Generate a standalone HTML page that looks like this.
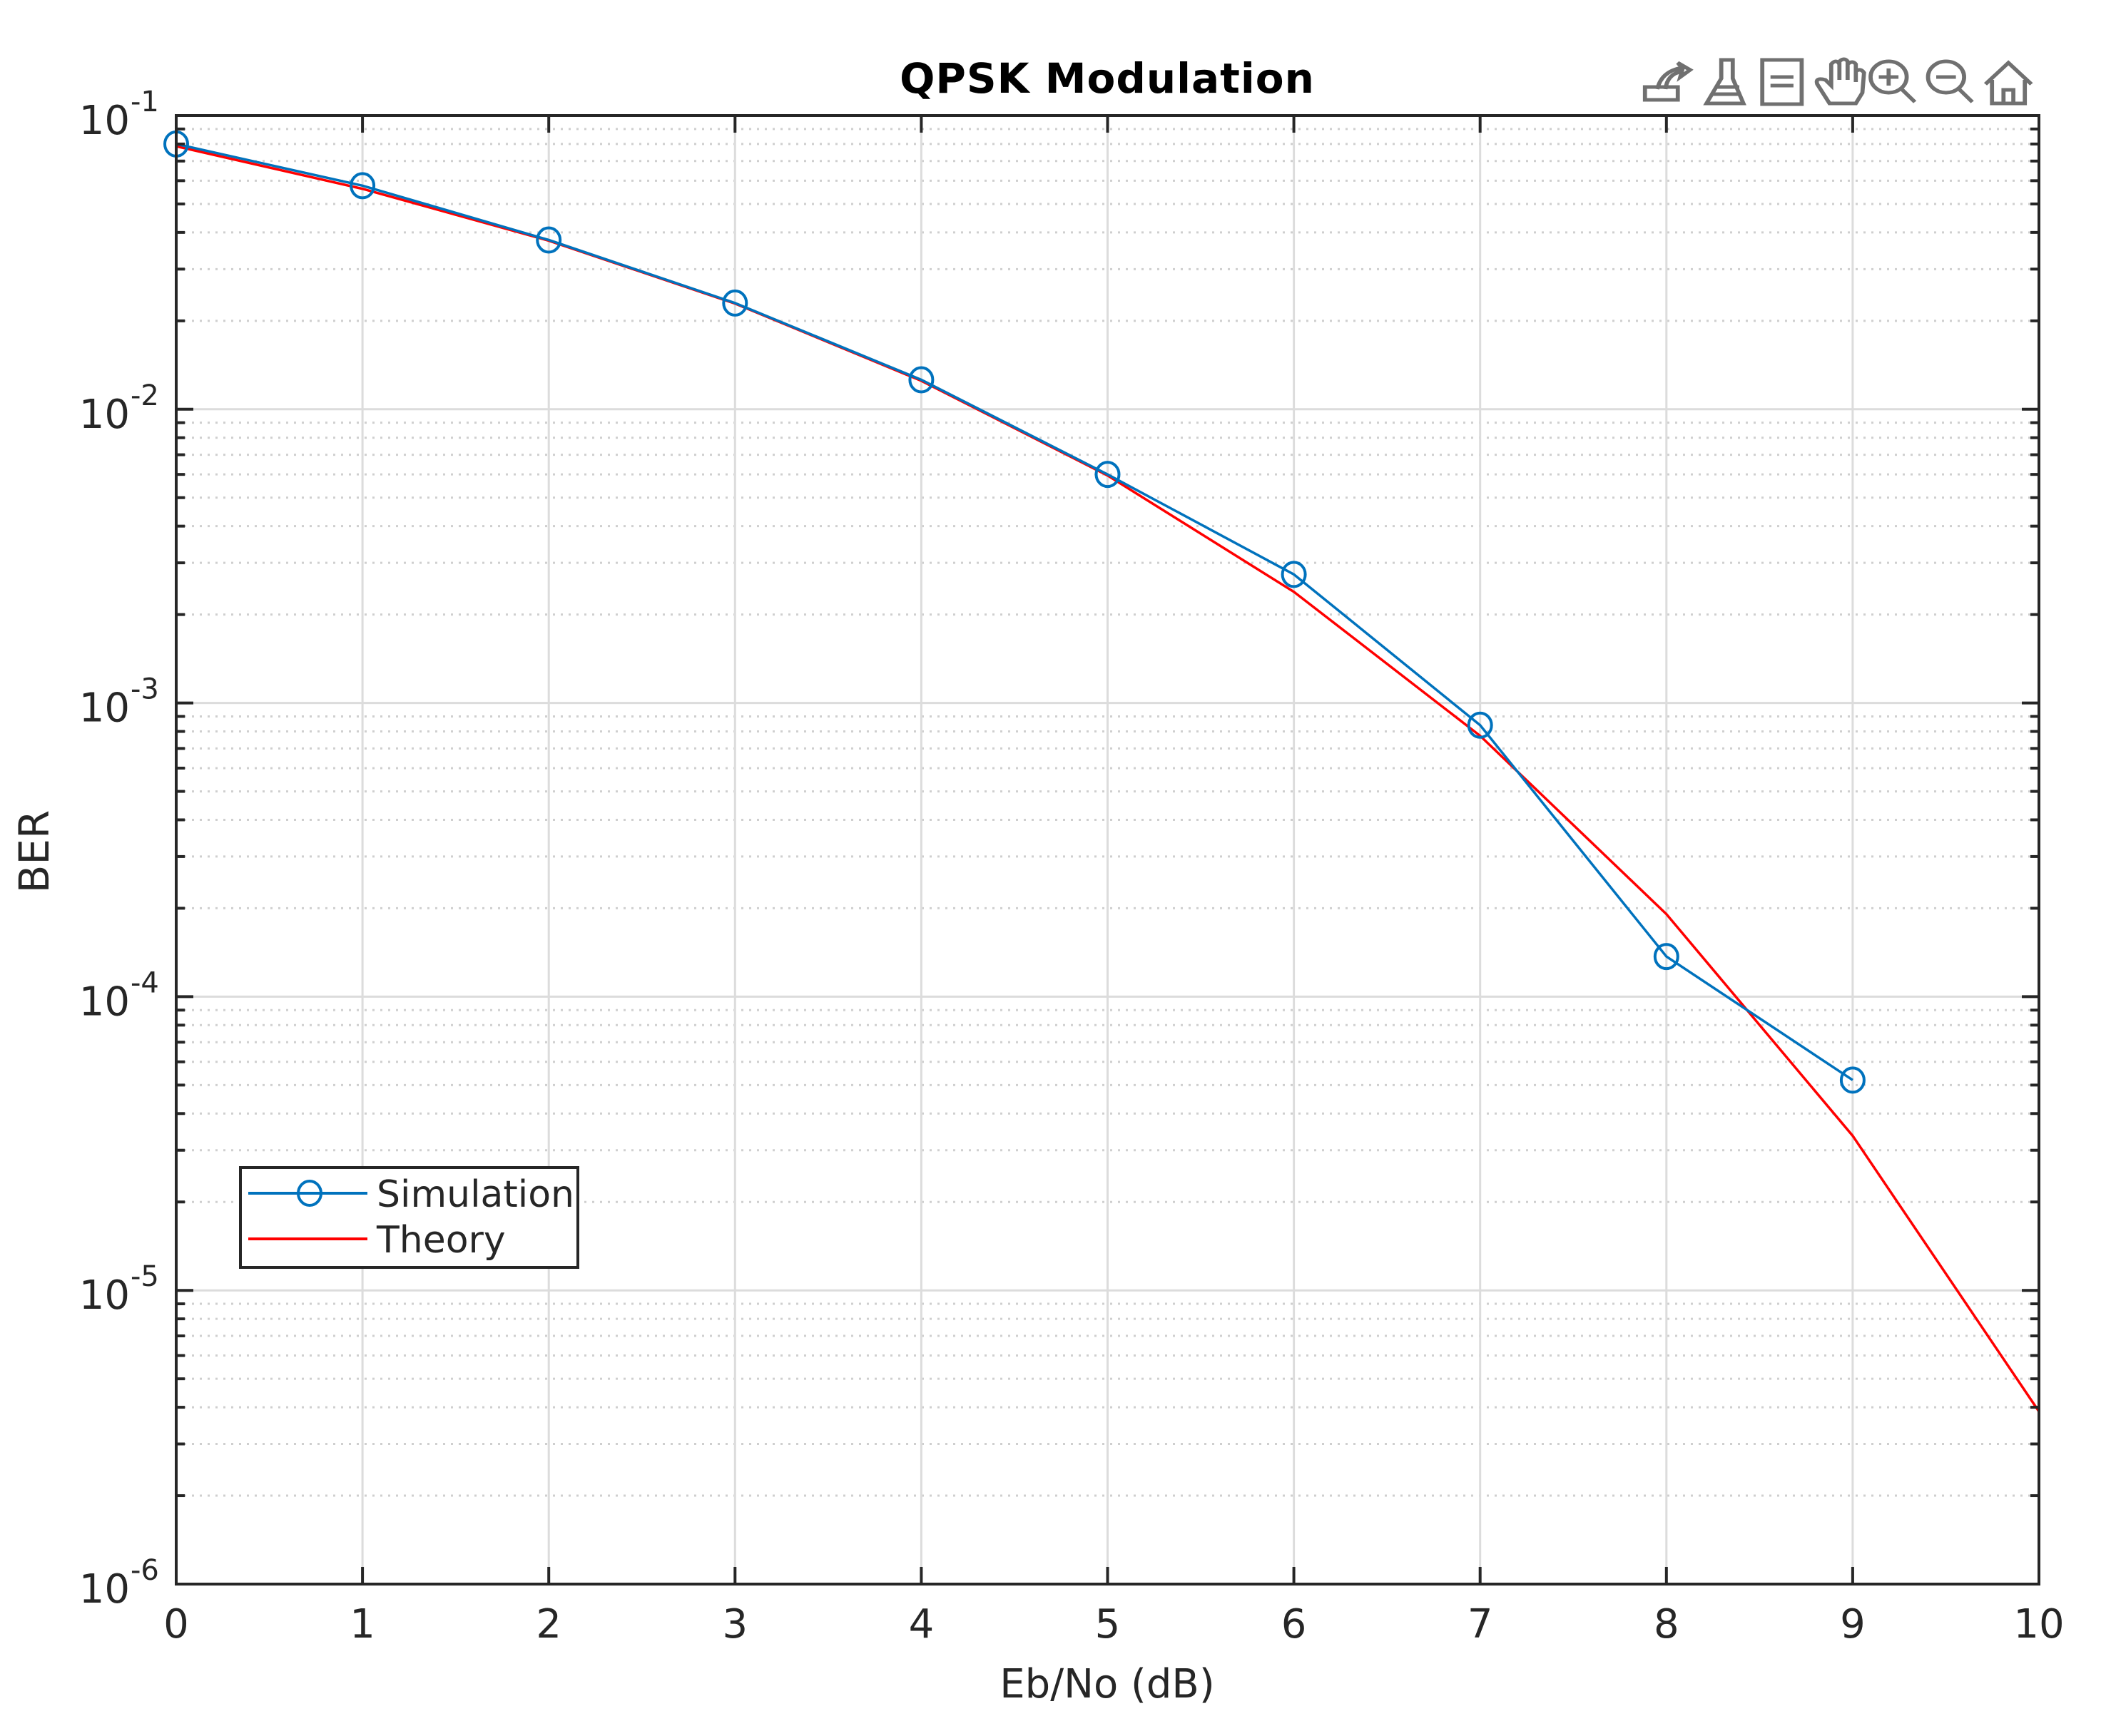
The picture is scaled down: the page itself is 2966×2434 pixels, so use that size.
<!DOCTYPE html>
<html><head><meta charset="utf-8"><style>
html,body{margin:0;padding:0;background:#fff;}
svg{display:block;font-family:"DejaVu Sans","Liberation Sans",sans-serif;}
</style></head><body>
<svg id="chart" width="2966" height="2434" viewBox="0 0 2966 2434" xmlns="http://www.w3.org/2000/svg">
<rect width="2966" height="2434" fill="#fff"/>
<g id="grid"></g>
<g id="series"></g>
<rect x="247" y="162" width="2611" height="2059" fill="none" stroke="#262626" stroke-width="4"/>
<g id="ticks"></g>
<text x="1552" y="130" text-anchor="middle" font-size="58" font-weight="bold" letter-spacing="1" fill="#000">QPSK Modulation</text>
<text x="1552" y="2380" text-anchor="middle" font-size="56" fill="#262626">Eb/No (dB)</text>
<text transform="translate(68,1194) rotate(-90)" text-anchor="middle" font-size="58" fill="#262626">BER</text>
<g>
<rect x="337" y="1637" width="473" height="140" fill="#fff" stroke="#262626" stroke-width="4"/>
<line x1="348" y1="1673" x2="515" y2="1673" stroke="#0072BD" stroke-width="4"/>
<ellipse cx="434" cy="1673" rx="16" ry="17" fill="none" stroke="#0072BD" stroke-width="4"/>
<text x="528" y="1692" font-size="52" fill="#262626">Simulation</text>
<line x1="348" y1="1737" x2="515" y2="1737" stroke="#ff0000" stroke-width="4"/>
<text x="528" y="1756" font-size="52" fill="#262626">Theory</text>
</g>
<g fill="none" stroke="#707070" stroke-width="5" transform="translate(2300,0) scale(1.15,1) translate(-2300,0)">
<g><path d="M2305 140 L2305 122 L2345 122 L2345 140 Z"/><path d="M2320 125 Q2325 100 2350 95 L2345 88 L2360 98 L2348 108 L2350 100 Q2332 104 2330 125"/></g>
<g><path d="M2398 84 L2412 84 L2412 110 L2425 145 L2380 145 L2398 110 Z"/><line x1="2392" y1="122" x2="2420" y2="122"/><line x1="2388" y1="132" x2="2422" y2="132"/></g>
<g><rect x="2448" y="84" width="48" height="62"/><line x1="2458" y1="108" x2="2486" y2="108"/><line x1="2458" y1="120" x2="2486" y2="120"/></g>
<g><path d="M2530 145 L2515 118 Q2512 108 2525 112 L2532 120 L2532 90 Q2538 82 2542 90 L2542 112 L2542 86 Q2548 80 2552 86 L2552 112 L2552 90 Q2558 84 2562 90 L2562 115 L2562 100 Q2568 95 2572 102 L2570 130 L2562 145 Z"/></g>
<g><circle cx="2602" cy="108" r="22"/><line x1="2617" y1="124" x2="2634" y2="143"/><line x1="2602" y1="96" x2="2602" y2="120"/><line x1="2590" y1="108" x2="2614" y2="108"/></g>
<g><circle cx="2672" cy="108" r="22"/><line x1="2687" y1="124" x2="2704" y2="143"/><line x1="2660" y1="108" x2="2684" y2="108"/></g>
<g><path d="M2720 118 L2748 88 L2776 118"/><path d="M2728 112 L2728 145 L2768 145 L2768 112"/><path d="M2742 145 L2742 126 L2754 126 L2754 145"/></g>
</g>
</svg>
<script>
const xCategories = [0,1,2,3,4,5,6,7,8,9];
const simulationBER = [0.080,0.0577,0.0377,0.0230,0.0126,0.0060,0.00274,0.00084,0.000137,0.000052];
const theoryX = [0,1,2,3,4,5,6,7,8,9,10];
const theoryBER = [0.0786,0.0563,0.0375,0.0229,0.0125,0.00595,0.00239,0.000773,0.000191,0.0000336,0.00000387];
const xTickLabels = ["0","1","2","3","4","5","6","7","8","9","10"];
const yTickExponents = [-1,-2,-3,-4,-5,-6];

const L=247,R=2858,T=162,B=2221,XMIN=0,XMAX=10,YMAXLOG=-1,YMINLOG=-6;
const NS="http://www.w3.org/2000/svg";
function xs(v){return L+(v-XMIN)/(XMAX-XMIN)*(R-L);}
function ys(v){return T+(YMAXLOG-Math.log10(v))/(YMAXLOG-YMINLOG)*(B-T);}
function mk(tag,attrs,parent){const e=document.createElementNS(NS,tag);for(const k in attrs)e.setAttribute(k,attrs[k]);parent.appendChild(e);return e;}
const grid=document.getElementById('grid'),ticks=document.getElementById('ticks'),series=document.getElementById('series');

for(let d=-6;d<-1;d++){for(let m=2;m<=9;m++){const y=ys(m*Math.pow(10,d));
 const g=mk('line',{x1:L,x2:R,y1:y,y2:y,stroke:'#cfcfcf','stroke-width':3,'stroke-dasharray':'3 8'},grid);
 
 
 const t1=mk('line',{x1:L,x2:L+12,y1:y,y2:y,stroke:'#262626','stroke-width':4},ticks);
 
 
 const t2=mk('line',{x1:R-12,x2:R,y1:y,y2:y,stroke:'#262626','stroke-width':4},ticks);
 
 
}}
yTickExponents.forEach(e=>{const y=ys(Math.pow(10,e));
 const g=mk('line',{x1:L,x2:R,y1:y,y2:y,stroke:'#dcdcdc','stroke-width':3},grid);
 
 
 const t1=mk('line',{x1:L,x2:L+24,y1:y,y2:y,stroke:'#262626','stroke-width':4},ticks);
 
 
 const t2=mk('line',{x1:R-24,x2:R,y1:y,y2:y,stroke:'#262626','stroke-width':4},ticks);
 
 
 const tx=mk('text',{x:182,y:y+26,'text-anchor':'end','font-size':56,fill:'#262626'},ticks);
 tx.textContent='10';
 
 
 const sp=mk('text',{x:183,y:y-6,'text-anchor':'start','font-size':40,fill:'#262626'},ticks);
 sp.textContent=String(e);
 
 
});
xTickLabels.forEach((lab,i)=>{const x=xs(theoryX[i]);
 if(i>0&&i<xTickLabels.length-1){const g=mk('line',{x1:x,x2:x,y1:T,y2:B,stroke:'#dcdcdc','stroke-width':3},grid);
 
 }
 const t1=mk('line',{x1:x,x2:x,y1:B-24,y2:B,stroke:'#262626','stroke-width':4},ticks);
 
 
 const t2=mk('line',{x1:x,x2:x,y1:T,y2:T+24,stroke:'#262626','stroke-width':4},ticks);
 
 
 const tx=mk('text',{x:x,y:2296,'text-anchor':'middle','font-size':56,fill:'#262626'},ticks);
 tx.textContent=lab;
 
 
});
const tp=mk('polyline',{points:theoryX.map((x,i)=>xs(x)+','+ys(theoryBER[i])).join(' '),fill:'none',stroke:'#ff0000','stroke-width':3.5},series);


const sp=mk('polyline',{points:xCategories.map((x,i)=>xs(x)+','+ys(simulationBER[i])).join(' '),fill:'none',stroke:'#0072BD','stroke-width':3.5},series);


xCategories.forEach((x,i)=>{
 const c=mk('ellipse',{cx:xs(x),cy:ys(simulationBER[i]),rx:16,ry:17,fill:'none',stroke:'#0072BD','stroke-width':4},series);
 
 
});
</script>
</body></html>
